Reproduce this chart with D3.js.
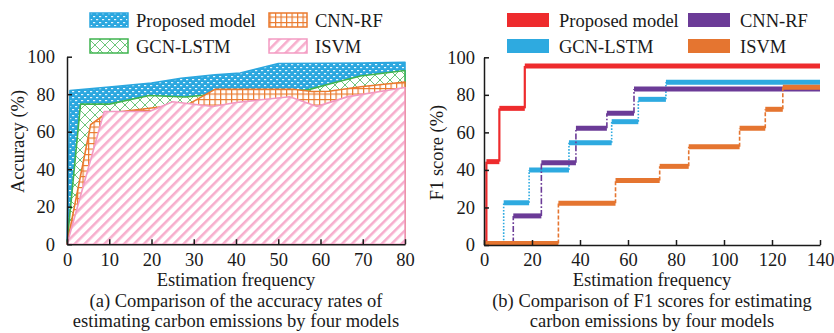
<!DOCTYPE html>
<html><head><meta charset="utf-8">
<script src="https://cdn.jsdelivr.net/npm/d3@7"></script>
<style>
body{margin:0;background:#fff}
svg{display:block}
text{font-family:"Liberation Serif","Times New Roman",serif;fill:#1a1a1a}
</style>
</head><body>
<svg id="c" width="834" height="333"></svg>
<script>
// ---------- data ----------
const seriesNames = ["Proposed model", "GCN-LSTM", "CNN-RF", "ISVM"];

// (a) accuracy (%) vs estimation frequency
const accProposedX = [0, 0.7, 10, 20, 27, 35, 41, 50, 60, 70, 80];
const accProposedY = [0, 82, 83.8, 86, 88.5, 90.3, 91.3, 96.4, 96.5, 96.6, 97];
const accGcnX = [0, 3.2, 10, 19.5, 28, 33, 40, 50, 57, 63, 69.5, 80];
const accGcnY = [0, 74.7, 74.7, 79.3, 78.5, 79.6, 80.5, 81, 82.3, 86, 89.7, 92.6];
const accCnnX = [0, 5.6, 8.5, 10, 19.5, 29, 35, 53.5, 58, 62, 69.5, 80];
const accCnnY = [0, 63.8, 68.5, 70, 72.5, 75, 82.6, 82.6, 81.4, 81.6, 84, 86.5];
const accIsvmX = [0, 8.8, 19.5, 25, 34.5, 40, 52.7, 59.2, 66.5, 80];
const accIsvmY = [0, 70.8, 70.8, 76, 73.4, 75.6, 78.6, 73.5, 78.7, 83.6];

// (b) F1 score (%) step series: breakpoints X, level on each interval
const f1ProposedX = [0, 1, 6.4, 17, 140];
const f1ProposedY = [0.8, 44.4, 72.8, 95.4];
const f1GcnX = [0, 8.2, 18.8, 35.4, 53.2, 64.3, 75.8, 140];
const f1GcnY = [0.8, 22.5, 40, 54.5, 65.7, 77.6, 86.7];
const f1CnnX = [0, 12.2, 23.9, 38.3, 51.2, 62.5, 140];
const f1CnnY = [0.8, 15.5, 43.8, 62.2, 70.2, 83.1];
const f1IsvmX = [0, 31, 54.8, 73.2, 85.3, 106.5, 117.2, 124.5, 140];
const f1IsvmY = [0.8, 22.2, 34.3, 41.9, 52.4, 62.2, 72.3, 84];

const accXTicks = [0, 10, 20, 30, 40, 50, 60, 70, 80];
const accYTicks = [0, 20, 40, 60, 80, 100];
const f1XTicks = [0, 20, 40, 60, 80, 100, 120, 140];
const f1YTicks = [0, 20, 40, 60, 80, 100];

// ---------- styles ----------
const FS = "18.5px";
const areaColors = ["#2ba7df", "#3fb44f", "#ea7a2e", "#f39ac2"];
const lineColors = ["#ee2b2d", "#2eaae0", "#6b3b97", "#e57530"];

const svg = d3.select("#c");
const defs = svg.append("defs");

// blue dotted pattern
const pB = defs.append("pattern").attr("id", "pBlue").attr("patternUnits", "userSpaceOnUse")
  .attr("width", 6).attr("height", 6);
pB.append("rect").attr("width", 6).attr("height", 6).attr("fill", areaColors[0]);
pB.append("rect").attr("x", 0).attr("y", 1).attr("width", 2.2).attr("height", 1.2).attr("fill", "#fff").attr("opacity", 0.9);
pB.append("rect").attr("x", 3).attr("y", 4).attr("width", 2.2).attr("height", 1.2).attr("fill", "#fff").attr("opacity", 0.9);

// green cross-hatch
const pG = defs.append("pattern").attr("id", "pGreen").attr("patternUnits", "userSpaceOnUse")
  .attr("width", 10).attr("height", 10);
pG.append("rect").attr("width", 10).attr("height", 10).attr("fill", "#fff");
pG.append("path").attr("d", "M0,0L10,10M0,10L10,0").attr("stroke", "#6cc67a").attr("stroke-width", 1);

// orange grid
const pO = defs.append("pattern").attr("id", "pOrange").attr("patternUnits", "userSpaceOnUse")
  .attr("width", 5.5).attr("height", 5.5);
pO.append("rect").attr("width", 5.5).attr("height", 5.5).attr("fill", "#fff");
pO.append("path").attr("d", "M0.6,0V5.5M0,0.6H5.5").attr("stroke", areaColors[2]).attr("stroke-width", 1.2);

// pink diagonal stripes
const pP = defs.append("pattern").attr("id", "pPink").attr("patternUnits", "userSpaceOnUse")
  .attr("width", 7).attr("height", 7).attr("patternTransform", "rotate(45)");
pP.append("rect").attr("width", 7).attr("height", 7).attr("fill", "#fff");
pP.append("rect").attr("width", 2.6).attr("height", 7).attr("fill", "#f7aecd");

const fills = ["url(#pBlue)", "url(#pGreen)", "url(#pOrange)", "url(#pPink)"];

// ---------- chart (a) ----------
const xL = d3.scaleLinear().domain([0, 80]).range([67, 405]);
const yL = d3.scaleLinear().domain([0, 100]).range([244.2, 56.7]);

const accSeries = [
  [accProposedX, accProposedY],
  [accGcnX, accGcnY],
  [accCnnX, accCnnY],
  [accIsvmX, accIsvmY]
];
const area = d3.area().x(d => xL(d[0])).y0(yL(0)).y1(d => yL(d[1]));
const gA = svg.append("g");
accSeries.forEach((s, i) => {
  const pts = s[0].map((x, j) => [x, s[1][j]]);
  gA.append("path").attr("d", area(pts) )
    .attr("fill", fills[i]).attr("stroke", areaColors[i]).attr("stroke-width", 1.6)
    .attr("stroke-linejoin", "round");
});

function styleAxis(g) {
  g.selectAll("path.domain").attr("stroke", "#1a1a1a").attr("stroke-width", 1.5);
  g.selectAll(".tick line").attr("stroke", "#1a1a1a").attr("stroke-width", 1.5);
  g.selectAll("text").style("font-size", FS).attr("fill", "#1a1a1a")
    .style("font-family", '"Liberation Serif","Times New Roman",serif');
}

svg.append("g").attr("transform", `translate(0,${yL(0)})`)
  .call(d3.axisBottom(xL).tickValues(accXTicks).tickSizeInner(-5).tickSizeOuter(0).tickPadding(9))
  .call(styleAxis);
svg.append("g").attr("transform", `translate(${xL(0)},0)`)
  .call(d3.axisLeft(yL).tickValues(accYTicks).tickSizeInner(-5).tickSizeOuter(0).tickPadding(12))
  .call(styleAxis);

svg.append("text").attr("transform", "translate(24,141.5) rotate(-90)").attr("text-anchor", "middle")
  .style("font-size", FS).text("Accuracy (%)");
svg.append("text").attr("x", 236).attr("y", 286).attr("text-anchor", "middle")
  .style("font-size", FS).text("Estimation frequency");
svg.append("text").attr("x", 236).attr("y", 306.5).attr("text-anchor", "middle")
  .style("font-size", FS).text("(a) Comparison of the accuracy rates of");
svg.append("text").attr("x", 236).attr("y", 327).attr("text-anchor", "middle")
  .style("font-size", FS).text("estimating carbon emissions by four models");

// legend (a): column-major
const legA = [[90, 13], [90, 39], [269, 13], [269, 39]];
seriesNames.forEach((n, i) => {
  const [lx, ly] = legA[i];
  svg.append("rect").attr("x", lx).attr("y", ly).attr("width", 38).attr("height", 14)
    .attr("fill", fills[i]).attr("stroke", areaColors[i]).attr("stroke-width", 1.5);
  svg.append("text").attr("x", lx + 46).attr("y", ly + 14).style("font-size", FS).text(n);
});

// ---------- chart (b) ----------
const xR = d3.scaleLinear().domain([0, 140]).range([484, 820]);
const yR = d3.scaleLinear().domain([0, 100]).range([245, 57.3]);

const f1Series = [
  [f1ProposedX, f1ProposedY],
  [f1GcnX, f1GcnY],
  [f1CnnX, f1CnnY],
  [f1IsvmX, f1IsvmY]
];
const dashes = [null, "1.6,1.6", "6,2,1.6,2", "4,2"];
const gB = svg.append("g");
f1Series.forEach((s, i) => {
  const xs = s[0], vs = s[1];
  const g = gB.append("g");
  // vertical connectors
  for (let j = 1; j < vs.length; j++) {
    g.append("line").attr("x1", xR(xs[j])).attr("x2", xR(xs[j]))
      .attr("y1", yR(vs[j - 1])).attr("y2", yR(vs[j]))
      .attr("stroke", lineColors[i]).attr("stroke-width", i === 0 ? 2.2 : 1.6)
      .attr("stroke-dasharray", dashes[i]);
  }
  // horizontal levels
  for (let j = 0; j < vs.length; j++) {
    g.append("line").attr("x1", xR(xs[j])).attr("x2", xR(xs[j + 1]))
      .attr("y1", yR(vs[j])).attr("y2", yR(vs[j]))
      .attr("stroke", lineColors[i]).attr("stroke-width", 5);
  }
});

svg.append("g").attr("transform", `translate(0,${yR(0)})`)
  .call(d3.axisBottom(xR).tickValues(f1XTicks).tickSizeInner(-5).tickSizeOuter(0).tickPadding(8))
  .call(styleAxis);
svg.append("g").attr("transform", `translate(${xR(0)},0)`)
  .call(d3.axisLeft(yR).tickValues(f1YTicks).tickSizeInner(-5).tickSizeOuter(0).tickPadding(9))
  .call(styleAxis);

svg.append("text").attr("transform", "translate(443,152.5) rotate(-90)").attr("text-anchor", "middle")
  .style("font-size", FS).text("F1 score (%)");
svg.append("text").attr("x", 652).attr("y", 286).attr("text-anchor", "middle")
  .style("font-size", FS).text("Estimation frequency");
svg.append("text").attr("x", 652).attr("y", 306.5).attr("text-anchor", "middle")
  .style("font-size", FS).text("(b) Comparison of F1 scores for estimating");
svg.append("text").attr("x", 652).attr("y", 327).attr("text-anchor", "middle")
  .style("font-size", FS).text("carbon emissions by four models");

const legB = [[507, 13], [507, 39], [688, 13], [688, 39]];
seriesNames.forEach((n, i) => {
  const [lx, ly] = legB[i];
  svg.append("rect").attr("x", lx).attr("y", ly).attr("width", 42).attr("height", 14)
    .attr("fill", lineColors[i]);
  svg.append("text").attr("x", lx + 52).attr("y", ly + 14).style("font-size", FS).text(n);
});
</script>
</body></html>
